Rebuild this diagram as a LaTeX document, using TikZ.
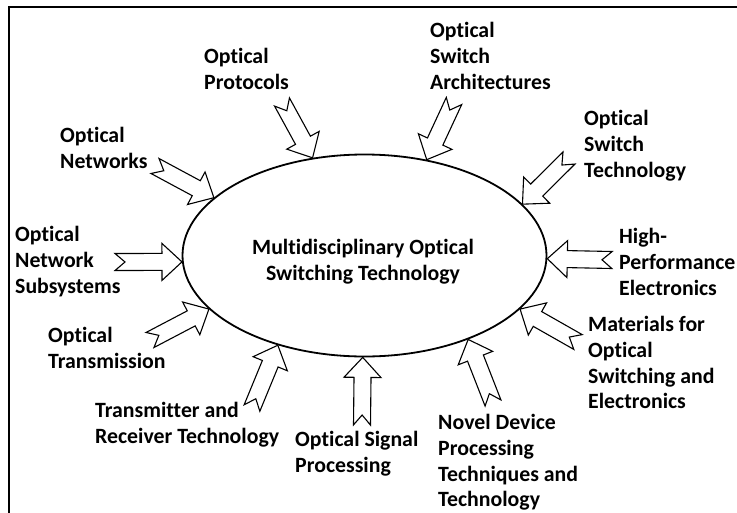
\documentclass[tikz,border=0pt]{standalone}
\usepackage{fontspec}
\setmainfont[Ligatures={NoCommon}]{Carlito}
\usetikzlibrary{calc,shapes.geometric}
\newcommand\aw{8.5pt}
\newcommand\an{10pt}
\newcommand\ahl{20pt}
\newcommand\ahw{18.5pt}
\newcommand\blockarr[2]{%
  \draw[blk] ($(#1)!\aw!90:(#2)$) -- ($(#1)!\an!(#2)$) -- ($(#1)!\aw!-90:(#2)$)
    -- ($(#2)!\ahl!(#1)!\aw!90:(#1)$) -- ($(#2)!\ahl!(#1)!\ahw!90:(#1)$) -- (#2)
    -- ($(#2)!\ahl!(#1)!\ahw!-90:(#1)$) -- ($(#2)!\ahl!(#1)!\aw!-90:(#1)$) -- cycle;}
\begin{document}
\begin{tikzpicture}[x=1pt,y=-1pt,
  txt/.style={font=\bfseries\fontsize{21.8}{25.8}\selectfont},
  lbl/.style={txt, align=left, anchor=north west, inner sep=0pt},
  blk/.style={draw, line width=1.1pt, fill=white, line join=miter}]
\useasboundingbox (0,0) rectangle (737,512);
\clip (0,0) rectangle (737,512);
\fill[white] (0,0) rectangle (737,512);
\draw[line width=2pt] (9,7) rectangle (760,540);
\node[draw, ellipse, line width=1.8pt, minimum width=364pt, minimum height=202pt,
  inner sep=0pt] (ell) at (364.5,255.5) {};
\node[txt, align=center, inner sep=0pt] (title) at (363,262)
  {Multidisciplinary Optical\\Switching Technology};
% labels
\node[lbl] (netw) at (60,127) {Optical\\Networks};
\node[lbl] (prot) at (204,48) {Optical\\Protocols};
\node[lbl] (arch) at (430,22) {Optical\\Switch\\Architectures};
\node[lbl] (swt) at (584,110) {Optical\\Switch\\Technology};
\node[lbl] (hpe) at (619,228) {High-\\Performance\\Electronics};
\node[lbl] (mat) at (588,316) {Materials for\\Optical\\Switching and\\Electronics};
\node[lbl] (nov) at (438,414) {Novel Device\\Processing\\Techniques and\\Technology};
\node[lbl] (sig) at (295,431) {Optical Signal\\Processing};
\node[lbl] (trx) at (95,402) {Transmitter and\\Receiver Technology};
\node[lbl] (trm) at (48,327) {Optical\\Transmission};
\node[lbl] (sub) at (15,226) {Optical\\Network\\Subsystems};
% arrow tails
\coordinate (t1) at (155,166);
\coordinate (t2) at (282,102);
\coordinate (t3) at (454,101);
\coordinate (t4) at (569,158);
\coordinate (t5) at (612,260);
\coordinate (t6) at (578,342);
\coordinate (t7) at (493,403);
\coordinate (t8) at (362,425);
\coordinate (t9) at (252,408);
\coordinate (t10) at (150,340);
\coordinate (t11) at (115,262);
% arrows
\blockarr{t1}{ell.159.8}
\blockarr{t2}{ell.118.1}
\blockarr{t3}{ell.57.6}
\blockarr{t4}{ell.18.5}
\blockarr{t5}{ell.-1}
\blockarr{t6}{ell.-19.1}
\blockarr{t7}{ell.-39.2}
\blockarr{t8}{ell.-91}
\blockarr{t9}{ell.-134.6}
\blockarr{t10}{ell.-161.8}
\blockarr{t11}{ell.-178}
\end{tikzpicture}
\end{document}
